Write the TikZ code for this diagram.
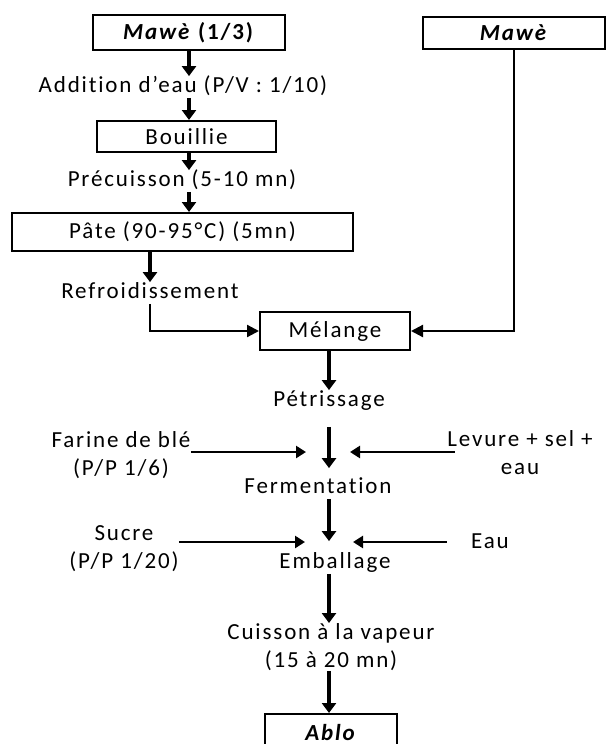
\documentclass[tikz,border=0pt]{standalone}
\usepackage{fontspec}
\setmainfont{Carlito}[LetterSpace=8,Ligatures=NoCommon]
\usetikzlibrary{arrows.meta}

\begin{document}
\begin{tikzpicture}[x=0.5pt,y=-0.5pt,
  font=\fontsize{11.5}{14}\selectfont,
  box/.style={draw,line width=1pt,inner sep=0pt},
  lbl/.style={inner sep=0pt,text height=8pt,text depth=2.5pt},
  lbl2/.style={inner sep=0pt,align=center},
  flow/.style={line width=1.7pt,-{Triangle[width=7pt,length=5pt]}},
  side/.style={line width=1.4pt,-{Triangle[width=6pt,length=5pt]}},
  link/.style={line width=1.1pt,-{Triangle[width=6pt,length=6pt]}}]
\useasboundingbox (0,0) rectangle (607,744);
% Left branch
\node[box,minimum width=96pt,minimum height=17.5pt] (mawe13) at (189,32.5) {\textbf{\textit{Mawè}} \textbf{(1/3)}};
\node[lbl] (addition) at (183,87) {Addition d’eau (P/V : 1/10)};
\node[box,minimum width=89.5pt,minimum height=15.5pt] (bouillie) at (186.5,136.5) {Bouillie};
\node[lbl] (precuisson) at (182,181) {Précuisson (5-10 mn)};
\node[box,minimum width=170.5pt,minimum height=19pt] (pate) at (182.5,232) {Pâte (90-95°C) (5mn)};
\node[lbl] (refroid) at (150,293) {Refroidissement};
% Right branch
\node[box,minimum width=91pt,minimum height=16pt] (mawe) at (514,32.5) {\textbf{\textit{Mawè}}};
% Main line
\node[box,minimum width=75pt,minimum height=19pt] (melange) at (335,331) {Mélange};
\node[lbl] (petrissage) at (329,401) {Pétrissage};
\node[lbl] (fermentation) at (318,488) {Fermentation};
\node[lbl] (emballage) at (335,563) {Emballage};
\node[lbl2] (cuisson) at (331,647) {Cuisson à la vapeur\\(15 à 20 mn)};
\node[box,minimum width=66pt,minimum height=19pt] (ablo) at (331,733) {\textbf{\textit{Ablo}}};
% Ingredients
\node[lbl2] (farine) at (121,455) {Farine de blé\\(P/P 1/6)};
\node[lbl2] (levure) at (520,453) {Levure + sel +\\eau};
\node[lbl2] (sucre) at (124,549) {Sucre\\(P/P 1/20)};
\node[lbl] (eau) at (490,543) {Eau};
\coordinate (farineEnd) at (306,452);
\coordinate (levureEnd) at (350,452);
\coordinate (sucreEnd) at (305,542);
\coordinate (eauEnd) at (353,542);
% Connections
\draw[flow] (mawe13.south) -- (addition.north -| mawe13);
\draw[flow] (addition.south -| mawe13) -- (bouillie.north -| mawe13);
\draw[flow] (bouillie.south -| mawe13) -- (precuisson.north -| mawe13);
\draw[flow] (precuisson.south -| mawe13) -- (pate.north -| mawe13);
\draw[flow] (pate.south -| refroid) -- (refroid.north);
\draw[link] (refroid.south) |- (melange.west);
\draw[link] (mawe.south) |- (melange.east);
\draw[flow] (melange.south -| petrissage) -- (petrissage.north);
\draw[flow,shorten <=7.5pt,shorten >=4.5pt] (petrissage.south) -- (fermentation.north -| petrissage);
\draw[flow,shorten >=5.5pt] (fermentation.south -| petrissage) -- (emballage.north -| petrissage);
\draw[flow] (emballage.south -| petrissage) -- (cuisson.north -| petrissage);
\draw[flow] (cuisson.south -| petrissage) -- (ablo.north -| petrissage);
% Ingredient arrows
\draw[side] (farine.east |- farineEnd) -- (farineEnd);
\draw[side] ([xshift=4pt]levure.west |- levureEnd) -- (levureEnd);
\draw[side] (sucre.east |- sucreEnd) -- (sucreEnd);
\draw[side] ([xshift=-12pt]eau.west |- eauEnd) -- (eauEnd);
\end{tikzpicture}
\end{document}
